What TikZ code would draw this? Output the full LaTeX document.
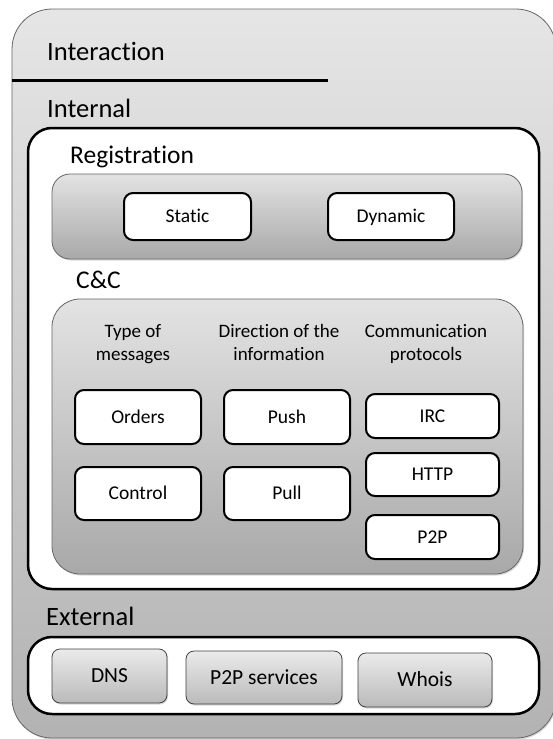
\documentclass[tikz,border=0pt]{standalone}
\usepackage{fontspec}
\setmainfont{Carlito}[Ligatures=NoCommon]
\usetikzlibrary{shadows}

\begin{document}
\begin{tikzpicture}[line cap=round,line join=round,x=1pt,y=-1pt,
  title/.style={anchor=base west,inner sep=0pt,font=\fontsize{26.5}{30}\selectfont},
  head/.style={align=center,inner sep=0pt,font=\fontsize{19}{23}\selectfont},
  panel/.style={draw=black!60,line width=0.8pt,rounded corners=#1,inner sep=0pt,
    shading=axis,top color=black!11,bottom color=black!34,
    drop shadow={shadow xshift=1pt,shadow yshift=-1.5pt,opacity=0.3}},
  panel/.default=18pt,
  frame/.style={draw=black,line width=2.5pt,fill=white,rounded corners=24pt,inner sep=0pt},
  item/.style={draw=black,line width=2pt,fill=white,rounded corners=9pt,inner sep=0pt,
    text height=12.6pt,text depth=0pt,font=\fontsize{19.5}{23}\selectfont},
  service/.style={draw=black!75,line width=0.8pt,rounded corners=8pt,inner sep=0pt,
    shading=axis,top color=black!8,bottom color=black!27,
    drop shadow={shadow xshift=1pt,shadow yshift=-1.5pt,opacity=0.3},
    text height=13.8pt,text depth=0pt,font=\fontsize{21.5}{25}\selectfont}]
\useasboundingbox (0,0) rectangle (552,739);
% outer box
\node[panel=40pt,top color=black!10,bottom color=black!30,minimum width=544,minimum height=729] (interaction) at (284,373.5) {};
\coordinate (rule-l) at (12,80);
\coordinate (rule-r) at (328,80);
\draw[line width=3pt,line cap=butt] (rule-l)--(rule-r);
\node[title] (interaction-t) at (47,60) {Interaction};
\node[title] (internal-t) at (47,117) {Internal};
% internal
\node[frame,minimum width=511,minimum height=461] (internal) at (283.5,358.5) {};
\node[title,font=\fontsize{25.5}{30}\selectfont] (registration-t) at (70,163) {Registration};
\node[panel,minimum width=470,minimum height=85] (registration) at (287,216.5) {};
\node[item,minimum width=127,minimum height=47] (static) at (187.5,216.5) {Static};
\node[item,minimum width=126,minimum height=47] (dynamic) at (391,216.5) {Dynamic};
\node[title,font=\fontsize{25.5}{30}\selectfont] (cc-t) at (76,288) {C\&C};
\node[panel=28pt,minimum width=471,minimum height=275] (cc) at (287.5,436.5) {};
\node[head] (type-h) at (133,344) {Type of\\messages};
\node[head] (direction-h) at (279,342.5) {Direction of the\\information};
\node[head] (protocol-h) at (426,344) {Communication\\protocols};
\node[item,minimum width=126,minimum height=54] (orders) at (138,417) {Orders};
\node[item,minimum width=126,minimum height=53] (control) at (138,493.5) {Control};
\node[item,minimum width=126,minimum height=54] (push) at (287,417) {Push};
\node[item,minimum width=126,minimum height=53] (pull) at (287,493.5) {Pull};
\node[item,minimum width=133,minimum height=44] (irc) at (432.5,416) {IRC};
\node[item,minimum width=133,minimum height=43] (http) at (432.5,474.5) {HTTP};
\node[item,minimum width=133,minimum height=44] (p2p) at (432.5,537) {P2P};
% external
\node[title] (external-t) at (46,625) {External};
\node[frame,minimum width=511,minimum height=77] (external) at (283.5,675.5) {};
\node[service,minimum width=115,minimum height=54] (dns) at (109.5,676) {DNS};
\node[service,minimum width=156,minimum height=53] (p2p-s) at (264,677.5) {P2P services};
\node[service,minimum width=134,minimum height=54] (whois) at (425,680) {Whois};
\end{tikzpicture}
\end{document}
